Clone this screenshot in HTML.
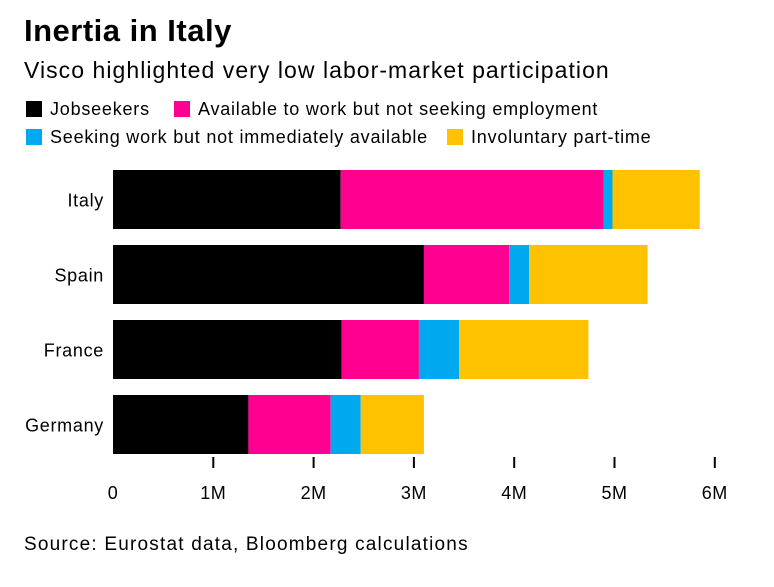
<!DOCTYPE html>
<html><head><meta charset="utf-8"><style>
body{margin:0;background:#fff;font-family:"Liberation Sans",sans-serif;}
#wrap{position:relative;width:774px;height:587px;overflow:hidden;}
.t{position:absolute;white-space:nowrap;color:#000;}
.sw{position:absolute;width:16px;height:16px;}
.lg{font-size:18px;letter-spacing:0.78px;}
</style></head><body>
<div id="wrap">
<div class="t" style="left:24px;top:13px;font-size:31px;font-weight:bold;letter-spacing:0.5px">Inertia in Italy</div>
<div class="t" style="left:24px;top:57px;font-size:23px;letter-spacing:1.05px">Visco highlighted very low labor-market participation</div>
<div class="sw" style="left:26px;top:101px;background:#000"></div>
<div class="t lg" style="left:50px;top:99px">Jobseekers</div>
<div class="sw" style="left:174px;top:101px;background:#ff0090"></div>
<div class="t lg" style="left:198px;top:99px">Available to work but not seeking employment</div>
<div class="sw" style="left:26px;top:129px;background:#00a8f0"></div>
<div class="t lg" style="left:50px;top:127px">Seeking work but not immediately available</div>
<div class="sw" style="left:447px;top:129px;background:#ffc200"></div>
<div class="t lg" style="left:471px;top:127px">Involuntary part-time</div>
<svg id="plot" width="774" height="587" style="position:absolute;left:0;top:0"></svg>
<div class="t" style="left:24px;top:534px;font-size:19px;letter-spacing:1.2px">Source: Eurostat data, Bloomberg calculations</div>
</div>
<script>
const categories=["Italy","Spain","France","Germany"];
const jobseekers=[2.27,3.10,2.28,1.35];
const available=[2.62,0.85,0.77,0.82];
const seeking=[0.09,0.20,0.40,0.30];
const parttime=[0.87,1.18,1.29,0.63];
const tickValues=[0,1,2,3,4,5,6];
const tickLabels=["0","1M","2M","3M","4M","5M","6M"];
const series=[jobseekers,available,seeking,parttime];
const names=["jobseekers","available","seeking","parttime"];
const colors=["#000","#ff0090","#00a8f0","#ffc200"];
const svg=document.getElementById('plot');
const NS="http://www.w3.org/2000/svg";
const x=v=>113+v*100.3;
const y=i=>170+i*75;
const bh=59;
function mk(t,a){const e=document.createElementNS(NS,t);for(const k in a)e.setAttribute(k,a[k]);svg.appendChild(e);return e;}
categories.forEach((c,i)=>{
  let acc=0;
  series.forEach((s,j)=>{
    const r=mk('rect',{x:x(acc),y:y(i),width:x(acc+s[i])-x(acc),height:bh,fill:colors[j]});
    
    
    acc+=s[i];
  });
  const t=mk('text',{x:104,y:y(i)+bh/2+7,'text-anchor':'end','font-size':18,'letter-spacing':0.7,'font-family':'Liberation Sans, sans-serif'});
  t.textContent=c;
  
  
});
tickValues.forEach((v,i)=>{
  if(v>0){const l=mk('line',{x1:x(v),x2:x(v),y1:457,y2:468,stroke:'#000','stroke-width':2});
  
  }
  const t=mk('text',{x:x(v),y:499,'text-anchor':'middle','font-size':18,'letter-spacing':0.5,'font-family':'Liberation Sans, sans-serif'});
  t.textContent=tickLabels[i];
  
  
});
</script>
</body></html>
